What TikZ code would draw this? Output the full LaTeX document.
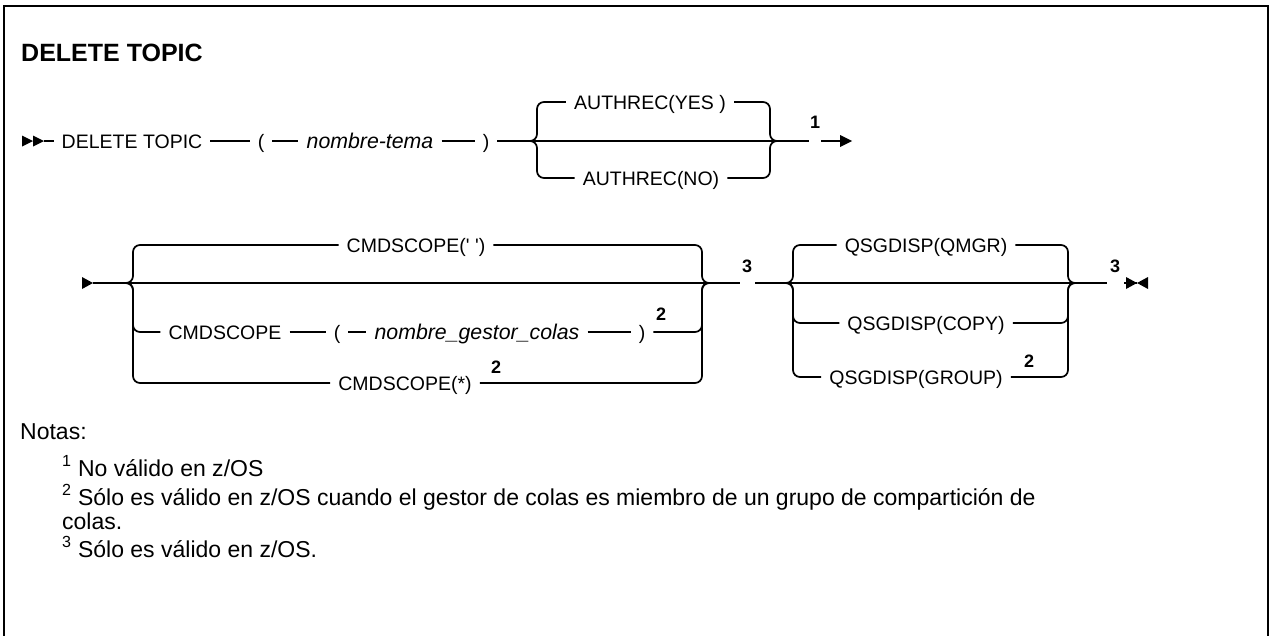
\documentclass[tikz,border=0pt]{standalone}
\usepackage{fontspec}
\setmainfont{Liberation Sans}
\usetikzlibrary{positioning, calc}
\tikzset{
  rail/.style={line width=1.7pt, rounded corners=7pt},
  kw/.style={font=\fontsize{19.5}{23}\selectfont, inner xsep=8pt, inner ysep=0pt,
    text height=14pt, text depth=0pt},
  var/.style={kw, font=\fontsize{21.3}{23}\selectfont\itshape},
  nref/.style={font=\fontsize{18}{20}\selectfont\bfseries, inner sep=0pt},
  note/.style={font=\fontsize{23}{24}\selectfont, anchor=base west, inner sep=0pt, align=left},
  tipfill/.style={fill=black},
}
\newcommand{\notenum}[1]{\textsuperscript{#1}}

\begin{document}
\begin{tikzpicture}[x=1pt, y=-1pt]
\clip (0,0) rectangle (1271,635);

% ── Marco y título ──────────────────────────────────────────
\draw[line width=2.4pt] (4,660) -- (4,6) -- (1268,6) -- (1268,660);
\node[font=\fontsize{25}{30}\selectfont\bfseries, anchor=west, inner sep=0pt] (title) at (21,53) {DELETE TOPIC};

% ── Fila 1: DELETE TOPIC ( nombre-tema ) ────────────────────
\coordinate (st1) at (44,141);
\fill[tipfill] (22,135.5) -- (33,141) -- (22,146.5) -- cycle;
\fill[tipfill] (33,135.5) -- (st1) -- (33,146.5) -- cycle;
\node[kw] (dt) at (132,141) {DELETE TOPIC};
\node[kw] (lp1) at (261,141) {(};
\node[var] (tn) at (370,141) {nombre-tema};
\node[kw] (rp1) at (486,141) {)};

% AUTHREC
\node[kw] (ay) at (650,102) {AUTHREC(YES )};
\node[kw] (an) at (651,178) {AUTHREC(NO)};
\coordinate (j1) at (527,141);
\coordinate (L1) at (537,141);
\coordinate (R1) at (770,141);
\coordinate (j2) at (780,141);
\coordinate (g1) at (809,141);
\coordinate (g2) at (821,141);
\coordinate (e1) at (852,141);
\node[nref] (n1) at (815,122) {1};

\draw[rail] (st1) -- (dt);
\draw[rail] (dt) -- (lp1);
\draw[rail] (lp1) -- (tn);
\draw[rail] (tn) -- (rp1);
\draw[rail] (rp1) -- (g1);
\draw[rail] (j1) -| (L1 |- ay) -- (ay);
\draw[rail] (j1) -| (L1 |- an) -- (an);
\draw[rail] (ay) -| (R1) -- (j2);
\draw[rail] (an) -| (R1) -- (j2);
\draw[rail] (g2) -- ($(e1)+(-11,0)$);
\fill[tipfill] ($(e1)+(-12,-6)$) -- (e1) -- ($(e1)+(-12,6)$) -- cycle;

% ── Fila 2: CMDSCOPE ────────────────────────────────────────
\coordinate (st2) at (93,283);
\fill[tipfill] (82,277) -- (st2) -- (82,289) -- cycle;
\node[kw] (cs1) at (416,245) {CMDSCOPE(\textquotesingle\ \textquotesingle)};
\node[kw] (cs2) at (225,332) {CMDSCOPE};
\node[kw] (lp2) at (337,332) {(};
\node[var] (qm) at (477,332) {nombre\_gestor\_colas};
\node[kw] (rp2) at (642,332) {)};
\node[nref] (n2a) at (661,314) {2};
\node[kw] (cs3) at (405,383) {CMDSCOPE(*)};
\node[nref] (n2b) at (496,367) {2};
\coordinate (k1) at (124,283);
\coordinate (L2) at (133,283);
\coordinate (R2) at (702,283);
\coordinate (k2) at (712,283);
\coordinate (g3) at (740,283);
\node[nref] (n3a) at (747,266) {3};
\coordinate (g4) at (755,283);

\draw[rail] (st2) -- (g3);
\draw[rail] (k1) -| (L2 |- cs1) -- (cs1);
\draw[rail] (k1) -| (L2 |- cs2) -- (cs2);
\draw[rail] (k1) -| (L2 |- cs3) -- (cs3);
\draw[rail] (cs2) -- (lp2);
\draw[rail] (lp2) -- (qm);
\draw[rail] (qm) -- (rp2);
\draw[rail] (cs1) -| (R2) -- (k2);
\draw[rail] (rp2) -| (R2) -- (k2);
\draw[rail] (cs3) -| (R2) -- (k2);

% ── Fila 2: QSGDISP ─────────────────────────────────────────
\node[kw] (qs1) at (926,245) {QSGDISP(QMGR)};
\node[kw] (qs2) at (926,323) {QSGDISP(COPY)};
\node[kw] (qs3) at (916,377) {QSGDISP(GROUP)};
\node[nref] (n2c) at (1029,361) {2};
\coordinate (k3) at (784,283);
\coordinate (L3) at (793,283);
\coordinate (R3) at (1068,283);
\coordinate (k4) at (1078,283);
\coordinate (g5) at (1107,283);
\node[nref] (n3b) at (1115,266) {3};
\coordinate (g6) at (1124,283);
\coordinate (e2) at (1137,283);

\draw[rail] (g4) -- (g5);
\draw[rail] (k3) -| (L3 |- qs1) -- (qs1);
\draw[rail] (k3) -| (L3 |- qs2) -- (qs2);
\draw[rail] (k3) -| (L3 |- qs3) -- (qs3);
\draw[rail] (qs1) -| (R3) -- (k4);
\draw[rail] (qs2) -| (R3) -- (k4);
\draw[rail] (qs3) -| (R3) -- (k4);
\draw[rail] (g6) -- (e2);
\fill[tipfill] ($(e2)+(-11,-6)$) -- (e2) -- ($(e2)+(-11,6)$) -- cycle;
\fill[tipfill] ($(e2)+(11,-6)$) -- (e2) -- ($(e2)+(11,6)$) -- cycle;

% ── Notas ───────────────────────────────────────────────────
\node[note] (notas) at (20,439) {Notas:};
\node[note] (nt1) at (62,476) {\notenum{1} No válido en z/OS};
\node[note] (nt2) at (62,529) {\notenum{2} Sólo es válido en z/OS cuando el gestor de colas es miembro de un grupo de compartición de\\colas.};
\node[note] (nt3) at (62,557) {\notenum{3} Sólo es válido en z/OS.};

\end{tikzpicture}
\end{document}
